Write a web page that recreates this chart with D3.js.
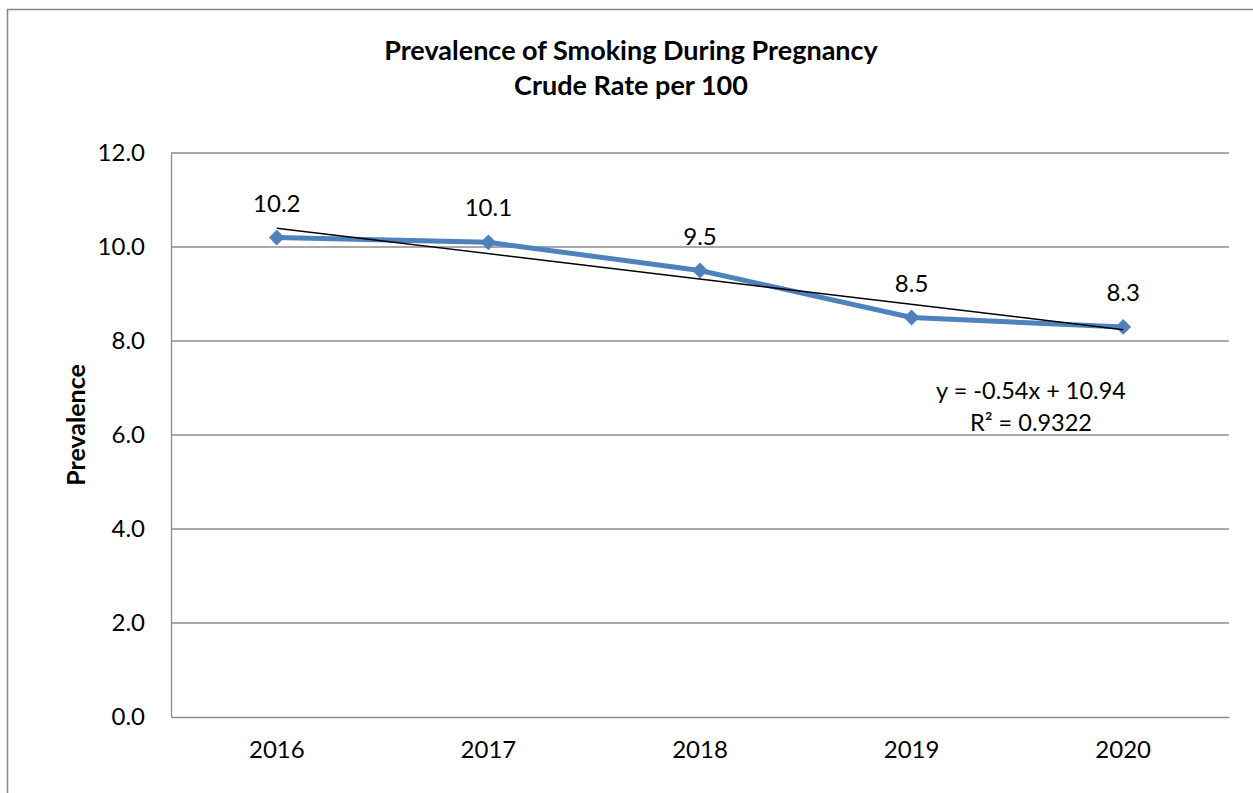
<!DOCTYPE html>
<html><head><meta charset="utf-8">
<script src="https://cdn.jsdelivr.net/npm/d3@7"></script>
<style>body{margin:0;background:#fff}svg{display:block}text{font-family:Lato,"Open Sans",sans-serif;fill:#000}</style>
</head><body>
<svg id="c" width="1253" height="793"></svg>
<script>
const categories = ["2016","2017","2018","2019","2020"];
const values = [10.2, 10.1, 9.5, 8.5, 8.3];
const yTicks = [0,2,4,6,8,10,12];
const trendSlope = -0.54, trendIntercept = 10.94;
const titleLines = ["Prevalence of Smoking During Pregnancy","Crude Rate per 100"];
const eqLines = ["y = -0.54x + 10.94","R² = 0.9322"];

const svg = d3.select("#c");
svg.append("rect").attr("x",7.5).attr("y",9.5).attr("width",1260).attr("height",800)
  .attr("fill","none").attr("stroke","#888").attr("stroke-width",1.5);

const L=171,R=1229,T=153,B=717;
const x = d3.scaleBand().domain(categories).range([L,R]);
const y = d3.scaleLinear().domain([0,12]).range([B,T]);

// gridlines
svg.append("g").selectAll("line").data(yTicks.filter(d=>d>0)).join("line")
  .attr("x1",L).attr("x2",R).attr("y1",d=>y(d)).attr("y2",d=>y(d))
  .attr("stroke","#8c8c8c").attr("stroke-width",1.3);

const F = "Lato, 'Open Sans', sans-serif";
// axes
const ya = svg.append("g").attr("transform",`translate(${L},0)`)
  .call(d3.axisLeft(y).tickValues(yTicks).tickFormat(d3.format(".1f")).tickSize(0).tickPadding(26));
ya.select(".domain").attr("stroke","#8c8c8c").attr("stroke-width",1.3);
ya.selectAll("text").attr("font-size",24).attr("font-family",F);

const xa = svg.append("g").attr("transform",`translate(0,${B})`)
  .call(d3.axisBottom(x).tickSize(0).tickPadding(24));
xa.select(".domain").attr("stroke","#8c8c8c").attr("stroke-width",1.3);
xa.selectAll("text").attr("font-size",24).attr("font-family",F);

const cx = d => x(d)+x.bandwidth()/2;

// series line
svg.append("path").datum(values)
  .attr("d", d3.line().x((d,i)=>cx(categories[i])).y(d=>y(d)))
  .attr("fill","none").attr("stroke","#4F81BD").attr("stroke-width",5).attr("stroke-linejoin","round");

// markers
svg.append("g").selectAll("path").data(values).join("path")
  .attr("d", d3.symbol(d3.symbolDiamond2, 160))
  .attr("transform",(d,i)=>`translate(${cx(categories[i])},${y(d)})`)
  .attr("fill","#4F81BD");

// trend line
svg.append("line")
  .attr("x1",cx(categories[0])).attr("y1",y(trendSlope*1+trendIntercept))
  .attr("x2",cx(categories[4])).attr("y2",y(trendSlope*5+trendIntercept))
  .attr("stroke","#000").attr("stroke-width",1.5);

// data labels
svg.append("g").selectAll("text").data(values).join("text")
  .attr("x",(d,i)=>cx(categories[i])).attr("y",d=>y(d)-26)
  .attr("text-anchor","middle").attr("font-size",24).text(d=>d3.format(".1f")(d));

// title
svg.append("g").selectAll("text").data(titleLines).join("text")
  .attr("x",631).attr("y",(d,i)=>60+i*35).attr("text-anchor","middle")
  .attr("font-size",27).attr("font-weight","bold").text(d=>d);

// y label
svg.append("text").attr("transform","translate(85,425) rotate(-90)")
  .attr("text-anchor","middle").attr("font-size",25).attr("font-weight","bold").text("Prevalence");

// equation
svg.append("g").selectAll("text").data(eqLines).join("text")
  .attr("x",1031).attr("y",(d,i)=>399+i*32).attr("text-anchor","middle")
  .attr("font-size",23.5).text(d=>d);
</script>
</body></html>
